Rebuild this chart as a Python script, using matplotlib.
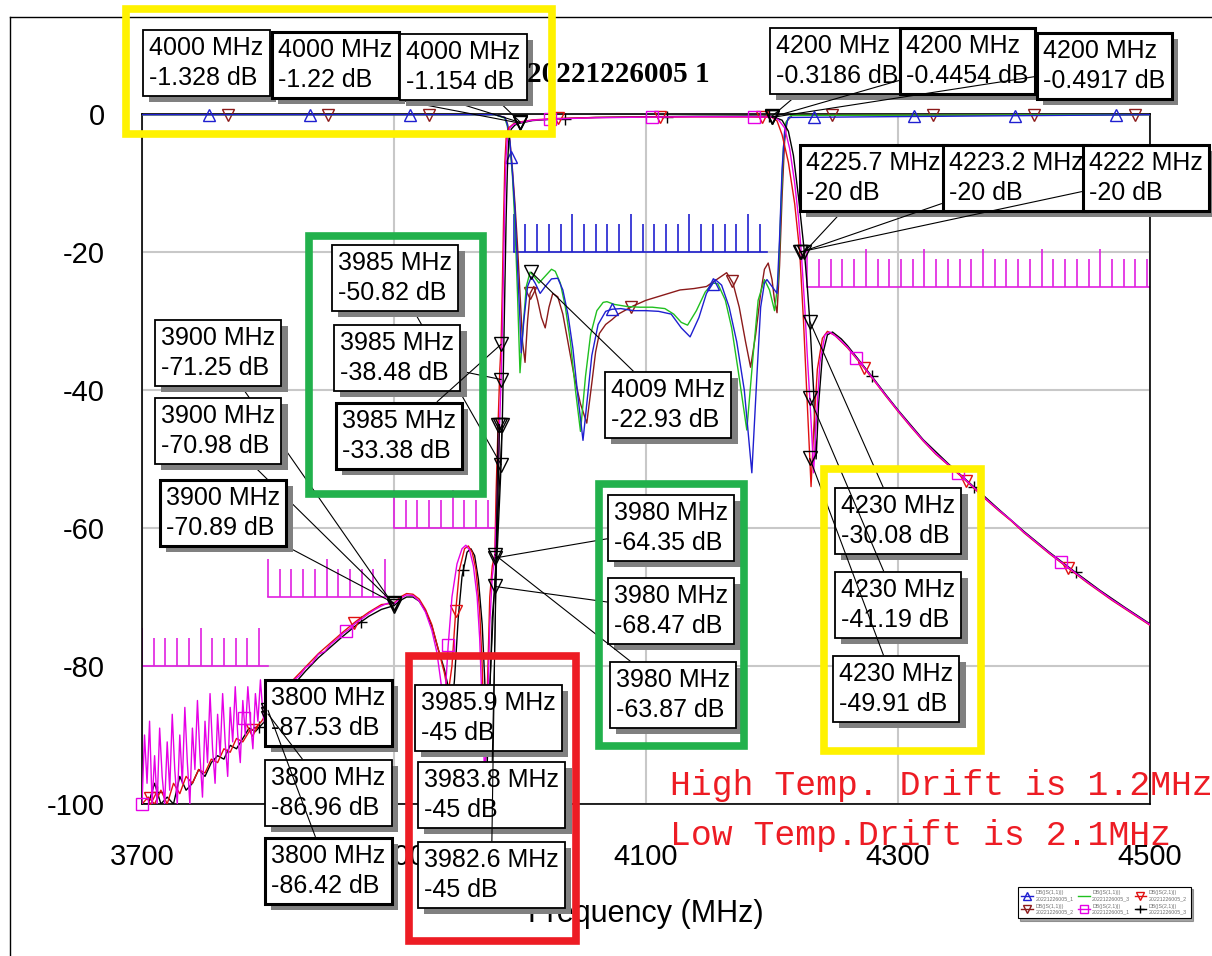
import numpy as np
import matplotlib.pyplot as plt
from matplotlib.lines import Line2D
from matplotlib.patches import Rectangle
import matplotlib.patheffects as pe

plt.rcParams['font.family'] = ['Liberation Sans', 'DejaVu Sans']
plt.rcParams['axes.unicode_minus'] = False

W, H = 1212, 956

# ---------------- S21 traces (3 temperatures) ----------------
s21_mag_f = [3700, 3702, 3704, 3706, 3708, 3710, 3712, 3714, 3716, 3718, 3720, 3722, 3724, 3726, 3728, 3730,
             3732, 3734, 3736, 3738, 3740, 3742, 3744, 3746, 3748, 3750, 3752, 3754, 3756, 3758, 3760, 3762,
             3764, 3766, 3768, 3770, 3772, 3774, 3776, 3778, 3780, 3782, 3784, 3786, 3788, 3790, 3792, 3794,
             3796, 3798, 3800, 3805, 3810, 3815, 3820, 3825, 3830, 3835, 3840, 3845, 3850, 3855, 3860, 3865,
             3870, 3875, 3880, 3885, 3890, 3895, 3900, 3905, 3910, 3915, 3920, 3925, 3930, 3934, 3937, 3939,
             3941, 3943, 3946, 3950, 3954, 3957, 3960, 3963, 3966, 3968, 3970, 3972, 3974, 3976, 3978, 3980,
             3982, 3983.8, 3985, 3986, 3987, 3988, 3989, 3990, 3992, 3995, 4000, 4010, 4030, 4060, 4100, 4140,
             4180, 4200, 4205, 4210, 4214, 4218, 4221, 4223.2, 4226, 4228, 4230, 4232, 4233, 4235, 4238, 4242,
             4246, 4252, 4260, 4270, 4280, 4290, 4300, 4310, 4320, 4330, 4340, 4350, 4360, 4370, 4380, 4390,
             4400, 4410, 4420, 4430, 4440, 4450, 4460, 4470, 4480, 4490, 4500]
s21_mag_db = [-100, -90, -97, -88, -100, -93, -100, -89, -96, -100, -91, -98, -87, -95, -100, -90,
              -97, -86, -94, -100, -89, -95, -85, -93, -99, -88, -94, -84, -92, -97, -87, -93,
              -84, -91, -96, -86, -91, -83, -90, -94, -85, -90, -83, -88, -92, -84, -88, -82,
              -87, -89, -86.96, -85.5, -84.3, -83.6, -82.1, -81.4, -80.2, -79.6, -78.3, -77.9, -76.8, -76.1, -75.2, -74.6,
              -73.7, -73.1, -72.4, -71.8, -71.3, -70.9, -70.98, -70.2, -69.7, -69.8, -70.6, -72.2, -74.8, -78, -82, -85,
              -83, -77, -70, -65.2, -63, -62.5, -63.2, -65.5, -70, -76, -86, -96, -88, -74, -67, -64.35,
              -55, -45, -38.48, -31, -22, -12, -6, -3.5, -2, -1.5, -1.22, -0.9, -0.7, -0.55, -0.45, -0.4,
              -0.4, -0.4454, -0.8, -2, -5, -10, -15, -20, -28, -35, -41.19, -48, -52, -45, -36, -32,
              -31.6, -32.4, -33.8, -36, -38.3, -40.7, -43, -45.2, -47.3, -49.2, -50.8, -52.4, -54.1, -55.8, -57.4, -58.9,
              -60.6, -62.1, -63.6, -65, -66.4, -67.8, -69.1, -70.4, -71.6, -72.8, -74]

s21_red_f = [3700, 3705, 3710, 3715, 3720, 3725, 3730, 3735, 3740, 3745, 3750, 3755, 3760, 3765, 3770, 3775,
             3780, 3785, 3790, 3795, 3800, 3810, 3820, 3830, 3840, 3850, 3860, 3870, 3880, 3890, 3900, 3905,
             3910, 3915, 3920, 3925, 3930, 3935, 3940, 3943, 3946, 3949, 3952, 3956, 3959, 3962, 3965, 3968,
             3970, 3972, 3974, 3976, 3978, 3980, 3981, 3982.6, 3984, 3985, 3986, 3987, 3988, 3989, 3991, 3995,
             4000, 4010, 4030, 4060, 4100, 4140, 4180, 4200, 4204, 4208, 4213, 4218, 4222, 4225, 4228, 4230,
             4231, 4233, 4236, 4240, 4244, 4250, 4260, 4270, 4280, 4290, 4300, 4310, 4320, 4330, 4340, 4350,
             4360, 4370, 4380, 4390, 4400, 4410, 4420, 4430, 4440, 4450, 4460, 4470, 4480, 4490, 4500]
s21_red_db = [-100, -99, -100, -98, -100, -97, -98.5, -96, -97, -95, -95.5, -93.5, -94, -92, -92.5, -90.5,
              -91, -89.5, -89, -88, -86.42, -84, -82, -80.1, -78.2, -76.6, -75, -73.5, -72.2, -71.1, -70.89, -70,
              -69.5, -69.6, -70.3, -71.8, -74, -77.5, -81, -84, -80, -72, -66, -63, -62.6, -63.5, -66, -72,
              -80, -92, -84, -70, -65.5, -63.87, -55, -45, -37, -33.38, -25, -15, -7, -3.5, -2, -1.4,
              -1.154, -0.85, -0.65, -0.5, -0.45, -0.42, -0.43, -0.4917, -1, -3, -7, -13, -20, -30, -42, -49.91,
              -54, -46, -37, -32.5, -31.5, -32.1, -33.9, -36.1, -38.4, -40.8, -43.1, -45.3, -47.4, -49.3, -50.9, -52.5,
              -54.2, -55.9, -57.5, -59, -60.7, -62.2, -63.7, -65.1, -66.5, -67.9, -69.2, -70.5, -71.7, -72.9, -74.1]

s21_blk_f = [3700, 3705, 3710, 3715, 3720, 3725, 3730, 3735, 3740, 3745, 3750, 3755, 3760, 3765, 3770, 3775,
             3780, 3785, 3790, 3795, 3800, 3810, 3820, 3830, 3840, 3850, 3860, 3870, 3880, 3890, 3900, 3905,
             3910, 3915, 3920, 3925, 3930, 3935, 3940, 3943, 3946, 3948, 3951, 3954, 3958, 3961, 3964, 3967,
             3970, 3972, 3974, 3976, 3978, 3980, 3982, 3984, 3985, 3985.9, 3987, 3988, 3989, 3990, 3991, 3993,
             3996, 4000, 4010, 4030, 4060, 4100, 4140, 4180, 4200, 4208, 4213, 4217, 4221, 4225.7, 4228, 4230,
             4233, 4235, 4237, 4240, 4244, 4248, 4255, 4260, 4270, 4280, 4290, 4300, 4320, 4340, 4360, 4380,
             4400, 4420, 4440, 4460, 4480, 4500]
s21_blk_db = [-100, -100, -97, -100, -99, -100, -96, -98, -97, -95, -96, -94, -93, -93.5, -91.5, -92,
              -90.5, -89, -89.5, -88.5, -87.53, -85, -82.8, -80.7, -78.8, -77.2, -75.6, -74.1, -72.8, -71.8, -71.25, -70.5,
              -70, -70, -70.6, -72, -74.2, -77.5, -80.5, -83, -86, -82, -73, -67, -63.5, -63, -64, -67.5,
              -74, -82, -94, -84, -73, -68.47, -63, -55, -50.82, -45, -35, -25, -15, -8, -4, -2.2,
              -1.6, -1.328, -0.95, -0.7, -0.5, -0.4, -0.33, -0.3, -0.3186, -0.9, -2.5, -6, -12, -20, -25, -30.08,
              -40, -50, -42, -35, -32, -31.6, -32.6, -33.6, -35.9, -38.2, -40.6, -42.9, -47.2, -50.7, -54, -57.3,
              -60.5, -63.5, -66.3, -69, -71.5, -73.9]

# ---------------- S11 traces ----------------
s11_blu_f = [3700, 3980, 3988, 3990, 3992, 3994, 3996, 3998, 4000, 4001, 4003, 4006, 4009, 4012, 4016, 4020,
             4025, 4030, 4034, 4038, 4042, 4046, 4050, 4053, 4057, 4062, 4068, 4073, 4080, 4090, 4100, 4110,
             4120, 4128, 4135, 4142, 4148, 4155, 4160, 4166, 4172, 4178, 4184, 4188, 4191, 4194, 4196, 4200,
             4204, 4206, 4208, 4210, 4213, 4500]
s11_blu_db = [-0.1, -0.1, -0.5, -1.5, -4, -8.5, -14, -22, -30, -34.6, -30, -25, -23.6, -24.5, -26, -25,
              -23.9, -23.8, -25.5, -29, -34, -41, -47.3, -42, -35, -30.5, -28.6, -28.3, -28.2, -28.5, -28.5, -28.6,
              -29, -31, -32.3, -29.5, -26, -24, -24.8, -28, -33, -40, -52, -38, -28, -24.5, -24, -25,
              -26, -18, -8, -2.5, -0.5, -0.1]

s11_grn_f = [3700, 3980, 3988, 3990, 3992, 3994, 3996, 3998, 4000, 4002, 4005, 4008, 4011, 4015, 4020, 4025,
             4028, 4032, 4036, 4040, 4044, 4048, 4052, 4056, 4061, 4066, 4069, 4075, 4085, 4095, 4105, 4115,
             4122, 4128, 4133, 4140, 4147, 4153, 4157, 4163, 4168, 4173, 4180, 4185, 4189, 4194, 4198, 4202,
             4205, 4207, 4209, 4211, 4215, 4500]
s11_grn_db = [-0.1, -0.1, -0.6, -1.8, -4.5, -9, -16, -26, -37.5, -32, -25, -22.9, -23.5, -24.5, -23.5, -22.5,
              -22.8, -24.5, -28, -33, -40, -46, -38, -32, -28.5, -27.3, -27.2, -27.6, -27.9, -28, -28, -28.2,
              -29, -30.2, -30.6, -28.5, -25.8, -24.5, -24.6, -27, -31, -37, -45.8, -35, -27, -24, -25.5, -28.5,
              -24, -14, -5, -1.2, -0.2, -0.1]

s11_brn_f = [3700, 3980, 3988, 3990, 3992, 3994, 3996, 3998, 4000, 4002, 4004, 4006, 4008, 4011, 4014, 4017,
             4020, 4023, 4026, 4030, 4034, 4038, 4043, 4048, 4053, 4057, 4060, 4063, 4068, 4073, 4078, 4083,
             4090, 4100, 4109, 4118, 4127, 4138, 4148, 4156, 4164, 4169, 4174, 4179, 4183, 4187, 4191, 4194,
             4197, 4200, 4202, 4204, 4206, 4208, 4210, 4212, 4216, 4500]
s11_brn_db = [-0.1, -0.1, -0.5, -1.4, -3.8, -8, -13, -19, -26, -33, -36, -30, -26, -25, -27, -29.5,
              -31, -28, -26, -26.5, -29, -33, -38, -42, -44.8, -39, -34.5, -31.8, -30.5, -29.8, -29, -28.5,
              -27.8, -27, -26.5, -26, -25.5, -25.3, -25, -24, -23, -24.5, -28, -33, -36.7, -32, -26, -22.5,
              -21.6, -24, -27, -28.8, -22, -12, -4, -1, -0.2, -0.1]

# trace marker frequencies
mag_mk_f = [3700, 3781, 3862, 3943, 4024, 4105, 4186, 4267, 4348, 4429]
red_mk_f = [3706, 3787, 3868, 3949, 4030, 4111, 4192, 4273, 4354, 4435]
blk_mk_f = [3712, 3793, 3874, 3955, 4036, 4117, 4198, 4279, 4360, 4441]
blu_mk_f = [3753, 3833, 3913, 3993, 4073, 4153, 4233, 4313, 4393, 4473]
brn_mk_f = [3768, 3848, 3928, 4008, 4088, 4168, 4248, 4328, 4408, 4488]

# spec masks: (start MHz, stop MHz, level dB)
mask_s11 = [(3995, 4196, -20)]
mask_s21 = [(3700, 3800, -80), (3800, 3900, -70), (3900, 3980, -60), (4228, 4500, -25)]

# marker readouts
ann_freq = [4000, 4000, 4000, 4200, 4200, 4200, 4225.7, 4223.2, 4222,
            3985, 3985, 3985, 3900, 3900, 3900, 4009, 3980, 3980, 3980,
            4230, 4230, 4230, 3800, 3800, 3800, 3985.9, 3983.8, 3982.6]
ann_db = [-1.328, -1.22, -1.154, -0.3186, -0.4454, -0.4917, -20, -20, -20,
          -50.82, -38.48, -33.38, -71.25, -70.98, -70.89, -22.93, -64.35, -68.47, -63.87,
          -30.08, -41.19, -49.91, -87.53, -86.96, -86.42, -45, -45, -45]
# box top-left corners in pixels (layout)
ann_box = [(143, 30), (272, 32), (400, 34), (770, 28), (900, 28), (1037, 33), (800, 145), (943, 145), (1083, 145),
           (332, 245), (334, 325), (336, 403), (155, 320), (155, 398), (160, 480), (605, 372),
           (608, 495), (608, 578), (610, 662), (835, 488), (835, 572), (833, 656),
           (265, 680), (265, 760), (265, 838), (415, 685), (418, 762), (418, 842)]
ann_thick = [1, 4, 5, 6, 7, 8, 11, 14, 22, 24]


def fx(px):
    return px / W


def fy(py):
    return 1 - py / H


def draw_mask(ax, f0, f1, level, color):
    ax.plot([f0, f1], [level, level], color=color, lw=1.2, zorder=2)
    ticks = np.arange(f0, f1 + 0.01, 9.3)
    tops = [level + (5.5 if i % 5 == 0 else 4) for i in range(len(ticks))]
    ax.vlines(ticks, level, tops, color=color, lw=1.2, zorder=2)


fig = plt.figure(figsize=(W / 100, H / 100), dpi=100)
ax = fig.add_axes([fx(142), fy(804), (1150 - 142) / W, (804 - 114) / H])
ax.set_xlim(3700, 4500)
ax.set_ylim(-100, 0)
ax.set_axisbelow(True)
ax.grid(True, color='#c8c8c8', lw=1.5)
ax.set_xticks([3700, 3900, 4100, 4300, 4500])
ax.set_yticks([-100, -80, -60, -40, -20, 0])
ax.tick_params(length=0, labelsize=21, pad=27)
ax.tick_params(axis='x', pad=28)
for s in ax.spines.values():
    s.set_linewidth(1.2)
ax.set_xlabel('Frequency (MHz)', fontsize=22, labelpad=20)

for f0, f1, lv in mask_s11:
    draw_mask(ax, f0, f1, lv, '#2020d0')
for f0, f1, lv in mask_s21:
    draw_mask(ax, f0, f1, lv, '#e020e0')

traces = [
    (s11_brn_f, s11_brn_db, '#8b1a1a', 'v', brn_mk_f),
    (s11_grn_f, s11_grn_db, '#20c020', None, None),
    (s11_blu_f, s11_blu_db, '#1f1fd0', '^', blu_mk_f),
    (s21_blk_f, s21_blk_db, 'black', '+', blk_mk_f),
    (s21_red_f, s21_red_db, '#e01010', 'v', red_mk_f),
    (s21_mag_f, s21_mag_db, '#e600e6', 's', mag_mk_f),
]
handles = []
for f, d, c, mk, mkf in traces:
    ax.plot(f, d, color=c, lw=1.0, zorder=3)
    if mk is not None:
        ax.plot(mkf, np.interp(mkf, f, d), ls='none', marker=mk, ms=9, mfc='none', mec=c, mew=1.0,
                zorder=3, clip_on=False)
    handles.append(Line2D([], [], color=c, lw=1.0, marker=mk, ms=6, mfc='none', mec=c))

# readout marker symbols
ax.plot(ann_freq, ann_db, ls='none', marker='v', ms=10, mfc='none', mec='black', mew=1.0, zorder=4, clip_on=False)

for i, (f, d, (bx, by)) in enumerate(zip(ann_freq, ann_db, ann_box)):
    lw = 2.2 if i in ann_thick else 1.3
    a = ax.annotate('%g MHz\n%g dB' % (f, d), xy=(f, d), xycoords='data',
                    xytext=(fx(bx + 6), fy(by + 6)), textcoords='figure fraction',
                    ha='left', va='top', fontsize=18, linespacing=1.3, zorder=6,
                    annotation_clip=False,
                    bbox=dict(boxstyle='square,pad=0.25', fc='white', ec='black', lw=lw),
                    arrowprops=dict(arrowstyle='-', color='black', lw=0.8, shrinkA=0, shrinkB=0))
    a.get_bbox_patch().set_path_effects([pe.SimplePatchShadow(offset=(4.5, -4.5), shadow_rgbFace='#808080', alpha=1),
                                         pe.Normal()])

# title
fig.text(fx(618), fy(75), '20221226005 1', family=['Liberation Serif', 'DejaVu Serif'], weight='bold',
         fontsize=21, ha='center', va='center')

# legend
labels = ['DB(|S(1,1)|)\n20221226005_1', 'DB(|S(1,1)|)\n20221226005_2', 'DB(|S(1,1)|)\n20221226005_3',
          'DB(|S(2,1)|)\n20221226005_1', 'DB(|S(2,1)|)\n20221226005_2', 'DB(|S(2,1)|)\n20221226005_3']
order = [2, 0, 1, 5, 4, 3]
leg = fig.legend([handles[k] for k in order], labels,
                 loc='upper left', bbox_to_anchor=(fx(1015), fy(884)), ncol=3, fontsize=3.8,
                 frameon=True, fancybox=False, shadow=True, edgecolor='black', handlelength=2.2,
                 handletextpad=0.5, columnspacing=0.8, borderpad=0.7, labelcolor='#707070')
leg.get_frame().set_linewidth(0.8)

# drift notes
fig.text(fx(670), fy(785), 'High Temp. Drift is 1.2MHz', color='#ed1c24', fontsize=25,
         family=['Liberation Mono', 'DejaVu Sans Mono'], va='center', zorder=12)
fig.text(fx(670), fy(835), 'Low Temp.Drift is 2.1MHz', color='#ed1c24', fontsize=25,
         family=['Liberation Mono', 'DejaVu Sans Mono'], va='center', zorder=12)

# outer frame
fig.add_artist(Line2D([fx(10), 1], [fy(17), fy(17)], color='black', lw=1.0))
fig.add_artist(Line2D([fx(10), fx(10)], [fy(17), 0], color='black', lw=1.0))

# highlight boxes (x0, y0, x1, y1 in pixels)
hl_boxes = [((126, 9, 552, 134), '#fff200'), ((309, 236, 483, 494), '#22b14c'), ((599, 484, 744, 746), '#22b14c'),
            ((824, 469, 981, 751), '#fff200'), ((409, 656, 576, 941), '#ed1c24')]
for (x0, y0, x1, y1), c in hl_boxes:
    fig.add_artist(Rectangle((fx(x0), fy(y1)), (x1 - x0) / W, (y1 - y0) / H, fill=False, ec=c, lw=5.5,
                             zorder=10))

fig.savefig('out.png', dpi=100)
